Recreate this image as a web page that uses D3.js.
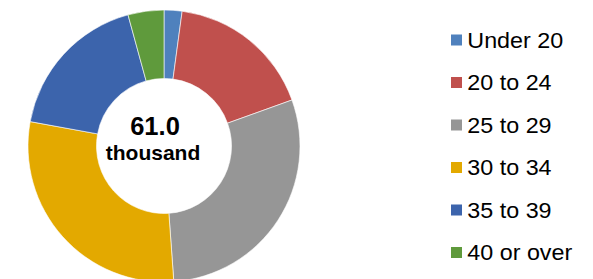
<!DOCTYPE html>
<html><head><meta charset="utf-8">
<script src="https://cdn.jsdelivr.net/npm/d3@7"></script>
<style>body{margin:0;background:#fff}svg{display:block}</style>
</head><body>
<svg id="c" width="593" height="279"></svg>
<script>
const categories = ["Under 20","20 to 24","25 to 29","30 to 34","35 to 39","40 or over"];
const values = [1.3, 10.6, 17.9, 17.7, 10.9, 2.6];
const colors = ["#4F81BD","#C0504D","#969696","#E3A900","#3C64AC","#5F9A3C"];
const centerValue = "61.0";
const centerUnit = "thousand";

const svg = d3.select("#c");
const cx = 164, cy = 146, R = 136, r = 67.5;
const pie = d3.pie().sort(null).value(d => d)(values);
const arc = d3.arc().innerRadius(r).outerRadius(R);
const g = svg.append("g").attr("transform", `translate(${cx},${cy})`);
g.selectAll("path").data(pie).join("path")
  .attr("d", arc).attr("fill", (d,i) => colors[i])
  .attr("stroke", "#fff").attr("stroke-width", 0.6);
g.append("text").attr("text-anchor","middle").attr("x", -9).attr("y", -11)
  .attr("font-family","Liberation Sans, Arial, sans-serif").attr("font-weight","bold")
  .attr("font-size", 25.5).attr("fill","#000").text(centerValue);
g.append("text").attr("text-anchor","middle").attr("x", -11).attr("y", 14)
  .attr("font-family","Liberation Sans, Arial, sans-serif").attr("font-weight","bold")
  .attr("font-size", 21).attr("fill","#000").text(centerUnit);

const ly = d3.scalePoint().domain(categories).range([40, 252.5]);
const lg = svg.append("g").selectAll("g").data(categories).join("g")
  .attr("transform", d => `translate(451,${ly(d)})`);
lg.append("rect").attr("x",0).attr("y",-5.5).attr("width",11).attr("height",11)
  .attr("fill",(d,i)=>colors[i]);
lg.append("text").attr("y",7.5)
  .attr("font-family","Liberation Sans, Arial, sans-serif").attr("font-size",22)
  .attr("fill","#000").attr("transform","scale(1.06,1)").attr("x",15.4)
  .text(d=>d);
</script>
</body></html>
